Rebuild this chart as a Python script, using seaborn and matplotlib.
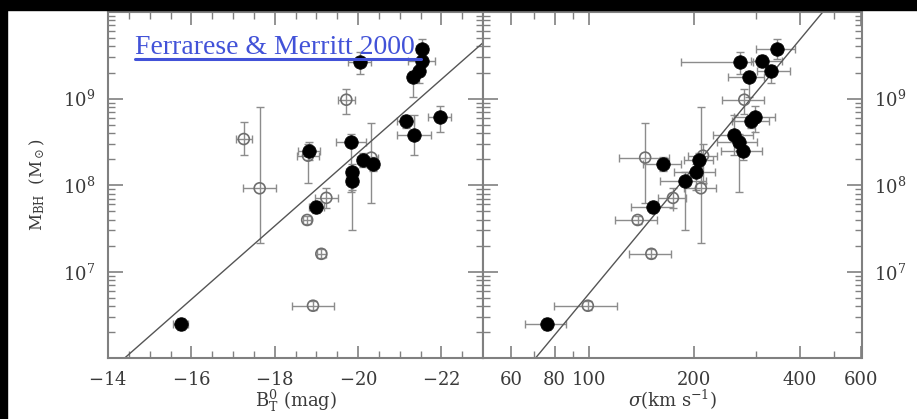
import numpy as np
import pandas as pd
import matplotlib
matplotlib.use("Agg")
import matplotlib.pyplot as plt
import seaborn as sns
from matplotlib.ticker import FixedLocator, FixedFormatter, NullFormatter
from matplotlib.patches import Rectangle
from matplotlib.lines import Line2D

# ---------------------------------------------------------------
# Black-hole masses vs. bulge luminosity and velocity dispersion
# ---------------------------------------------------------------

# Secure black-hole mass measurements (filled symbols)
sec_mag = [-21.54, -21.53, -21.46, -21.31, -20.04, -21.14, -21.96, -21.34,
           -19.82, -18.82, -20.12, -20.36, -19.86, -19.86, -19.00, -15.74]
sec_sigma = [345, 313, 332, 286, 271, 291, 299, 260,
             268, 275, 207, 163, 202, 188, 153, 76]
sec_mbh = [3.74e9, 2.72e9, 2.08e9, 1.78e9, 2.62e9, 5.56e8, 6.08e8, 3.80e8,
           3.18e8, 2.47e8, 1.95e8, 1.75e8, 1.40e8, 1.13e8, 5.65e7, 2.5e6]
sec_mag_err = [0.15, 0.32, 0.10, 0.10, 0.28, 0.20, 0.28, 0.40,
               0.36, 0.27, 0.15, 0.15, 0.15, 0.15, 0.18, 0.18]
sec_sig_lo = [44, 23, 29, 37, 88, 35, 40, 34, 35, 37, 20, 20, 27, 28, 21, 10]
sec_sig_hi = [44, 44, 43, 30, 24, 35, 40, 34, 35, 37, 20, 20, 27, 28, 21, 10]
sec_dex_lo = [0.115, 0.07, 0.14, 0.23, 0.135, 0.08, 0.17, 0.23,
              0.58, 0.10, 0.08, 0.08, 0.20, 0.57, 0.07, 0.07]
sec_dex_hi = [0.11, 0.07, 0.07, 0.07, 0.12, 0.07, 0.13, 0.23,
              0.09, 0.10, 0.08, 0.08, 0.10, 0.10, 0.07, 0.07]

# Less secure measurements (open symbols)
oth_mag = [-17.26, -17.64, -19.72, -18.80, -20.32, -19.24, -18.78, -19.12, -18.92]
oth_sigma = [np.nan, 209, 278, 212, 145, 174, 138, 151, 99.5]
oth_mbh = [3.41e8, 9.2e7, 9.7e8, 2.19e8, 2.08e8, 7.13e7, 3.96e7, 1.61e7, 4.05e6]
oth_mag_err = [0.19, 0.40, 0.21, 0.27, 0.15, 0.27, 0.10, 0.10, 0.50]
oth_sig_lo = [np.nan, 22, 38, 20, 23, 16, 19, 21, 20]
oth_sig_hi = [np.nan, 22, 38, 20, 25, 16, 19, 21, 21]
oth_dex_lo = [0.18, 0.63, 0.17, 0.31, 0.53, 0.115, 0.05, 0.05, 0.05]
oth_dex_hi = [0.20, 0.94, 0.12, 0.13, 0.40, 0.115, 0.05, 0.05, 0.05]

# Best-fit relations: log M = zp + slope * (x - x0)
lum_fit = dict(zp=8.29, slope=-0.4235, x0=-19.8)      # x = B_T^0
sig_fit = dict(zp=8.21, slope=4.88, x0=np.log10(200))  # x = log sigma

mag_ticks = [-14, -16, -18, -20, -22]
sig_ticks = [60, 80, 100, 200, 400, 600]
sig_minor = [70, 90, 300, 500]
mbh_ticks = [1e7, 1e8, 1e9]

MAG_LIM = (-14, -23)
SIG_LIM = (50, 600)
MBH_LIM = (1e6, 1e10)

# ---------------------------------------------------------------
sns.set_theme(style="ticks")
plt.rcParams["font.family"] = ["DejaVu Serif"]
plt.rcParams["mathtext.fontset"] = "dejavuserif"

SPINE = "#808080"
ERR = "#8c8c8c"
TXT = "#3a3a3a"

W, H = 917, 419
fig = plt.figure(figsize=(W / 100, H / 100), dpi=100, facecolor="white")

bottom = 1 - 358.3 / H
height = (358.3 - 12) / H
ax1 = fig.add_axes([108 / W, bottom, 375 / W, height])
ax2 = fig.add_axes([483 / W, bottom, 378.5 / W, height])


def frame(d):
    d = d.copy()
    d["lo"] = d["mbh"] * (1 - 10 ** (-d["dlo"]))
    d["hi"] = d["mbh"] * (10 ** d["dhi"] - 1)
    return d


secure = frame(pd.DataFrame(dict(mag=sec_mag, sigma=sec_sigma, mbh=sec_mbh,
                                 emag=sec_mag_err, slo=sec_sig_lo, shi=sec_sig_hi,
                                 dlo=sec_dex_lo, dhi=sec_dex_hi)))
other = frame(pd.DataFrame(dict(mag=oth_mag, sigma=oth_sigma, mbh=oth_mbh,
                                emag=oth_mag_err, slo=oth_sig_lo, shi=oth_sig_hi,
                                dlo=oth_dex_lo, dhi=oth_dex_hi)))

for ax in (ax1, ax2):
    ax.set_yscale("log")
    ax.set_ylim(*MBH_LIM)
ax1.set_xlim(*MAG_LIM)
ax2.set_xscale("log")
ax2.set_xlim(*SIG_LIM)

ebar_kw = dict(fmt="none", ecolor=ERR, elinewidth=1.0, capsize=3, capthick=1.0, zorder=2)

for d in (secure, other):
    ax1.errorbar(d["mag"], d["mbh"], xerr=d["emag"], yerr=[d["lo"], d["hi"]], **ebar_kw)
    ax2.errorbar(d["sigma"], d["mbh"], xerr=[d["slo"], d["shi"]],
                 yerr=[d["lo"], d["hi"]], **ebar_kw)

# markers
for ax, xcol in ((ax1, "mag"), (ax2, "sigma")):
    sns.scatterplot(data=other, x=xcol, y="mbh", ax=ax, s=62, color="none",
                    edgecolor="#6e6e6e", linewidth=1.2, zorder=3, legend=False)
    sns.scatterplot(data=secure, x=xcol, y="mbh", ax=ax, s=95, color="black",
                    edgecolor="black", linewidth=0.5, zorder=4, legend=False)

# fit lines
mag_line = np.array(MAG_LIM, dtype=float)
lum_line = pd.DataFrame(dict(x=mag_line,
                             y=10 ** (lum_fit["zp"] + lum_fit["slope"] * (mag_line - lum_fit["x0"]))))
sig_line_x = np.array(SIG_LIM, dtype=float)
sig_line = pd.DataFrame(dict(x=sig_line_x,
                             y=10 ** (sig_fit["zp"] + sig_fit["slope"] * (np.log10(sig_line_x) - sig_fit["x0"]))))
sns.lineplot(data=lum_line, x="x", y="y", ax=ax1, color="#555555", linewidth=1.0,
             zorder=2.5, legend=False)
sns.lineplot(data=sig_line, x="x", y="y", ax=ax2, color="#555555", linewidth=1.0,
             zorder=2.5, legend=False)

# axes cosmetics
def decade_label(v):
    return r"$10^{%d}$" % int(round(np.log10(v)))


minor_mbh = [m * 10 ** e for e in range(6, 10) for m in range(2, 10)]
for ax in (ax1, ax2):
    for s in ax.spines.values():
        s.set_color(SPINE)
        s.set_linewidth(1.5)
    ax.yaxis.set_major_locator(FixedLocator(mbh_ticks))
    ax.yaxis.set_major_formatter(FixedFormatter([decade_label(v) for v in mbh_ticks]))
    ax.yaxis.set_minor_locator(FixedLocator(minor_mbh))
    ax.yaxis.set_minor_formatter(NullFormatter())
    ax.tick_params(which="both", direction="in", colors=SPINE, labelcolor=TXT,
                   top=True, bottom=True, left=True, right=True, labelsize=13)
    ax.tick_params(axis="y", which="major", length=10.5, width=1.2, pad=9)
    ax.tick_params(axis="y", which="minor", length=5, width=1.0)
    ax.tick_params(axis="x", which="major", length=9, width=1.2, pad=9)
    ax.tick_params(axis="x", which="minor", length=5, width=1.0)
    ax.set_facecolor("white")

ax1.xaxis.set_major_locator(FixedLocator(mag_ticks))
ax1.xaxis.set_major_formatter(FixedFormatter([r"$%d$" % v for v in mag_ticks]))
ax1.xaxis.set_minor_locator(FixedLocator(np.arange(-23, -13.9, 0.5)))
ax1.tick_params(labelleft=True, labelright=False)

ax2.xaxis.set_major_locator(FixedLocator(sig_ticks))
ax2.xaxis.set_major_formatter(FixedFormatter([str(v) for v in sig_ticks]))
ax2.xaxis.set_minor_locator(FixedLocator(sig_minor))
ax2.xaxis.set_minor_formatter(NullFormatter())
ax2.tick_params(labelleft=False, labelright=True)

ax1.set_xlabel(r"$\mathrm{B_T^0}$ (mag)", fontsize=13, color=TXT)
ax2.set_xlabel(r"$\sigma$(km s$^{-1}$)", fontsize=13, color=TXT)
ax1.xaxis.set_label_coords(0.5, -0.085)
ax2.xaxis.set_label_coords(0.5, -0.085)
ax1.set_ylabel(r"$\mathrm{M_{BH}}$  $(\mathrm{M_\odot})$", fontsize=12, color=TXT)
ax1.yaxis.set_label_coords(-0.163, 0.5)
ax2.set_ylabel("")

# citation link
fig.text(135 / W, 1 - 54 / H, "Ferrarese & Merritt 2000", family="Liberation Serif",
         fontsize=20, color="#4252d8", va="baseline", ha="left", zorder=10)
fig.add_artist(Line2D([135 / W, 421 / W], [1 - 59 / H, 1 - 59 / H], color="#4252d8",
                      linewidth=2.2, transform=fig.transFigure, zorder=10))

# dark frame strips along top and left edges
fig.add_artist(Rectangle((0, 1 - 10 / H), 1, 10 / H, transform=fig.transFigure,
                         color="black", zorder=20))
fig.add_artist(Rectangle((0, 0), 7 / W, 1, transform=fig.transFigure,
                         color="black", zorder=20))

fig.savefig("out.png", dpi=100, facecolor="white")
